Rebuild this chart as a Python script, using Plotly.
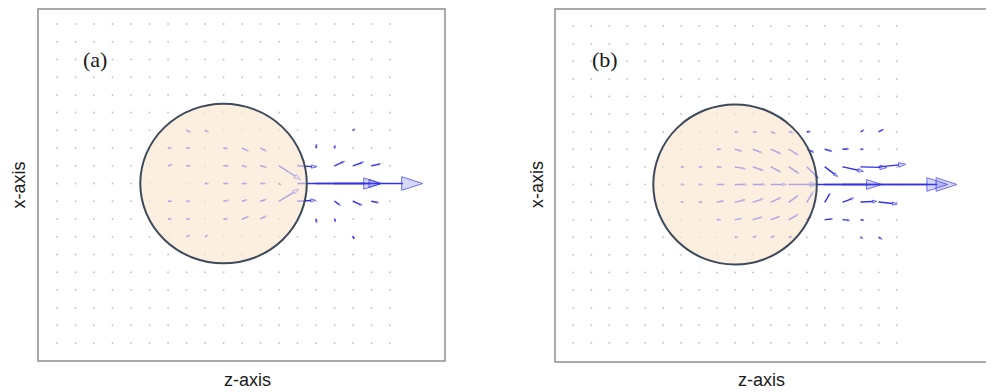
import math
import plotly.graph_objects as go

# ---------------- data ----------------
grid_z = list(range(-9, 10))
grid_x = list(range(-9, 10))

sphere_radius_a = 4.5
sphere_radius_b = 4.55

# panel (a): tail positions (z, x) and vector components (dz, dx)
a_z = [-2, -1, 7,
       -3, -2, 0, 1, 2, 5, 6,
       -3, -2, 0, 1, 2, 3, 4, 6, 7, 8,
       -1, 0, 1, 2, 3, 4, 5, 6,
       -3, -2, 0, 1, 2, 3, 4, 6, 7, 8,
       -3, -2, 0, 1, 2, 5, 6,
       -2, -1, 7]
a_x = [3, 3, 3,
       2, 2, 2, 2, 2, 2, 2,
       1, 1, 1, 1, 1, 1, 1, 1, 1, 1,
       0, 0, 0, 0, 0, 0, 0, 0,
       -1, -1, -1, -1, -1, -1, -1, -1, -1, -1,
       -2, -2, -2, -2, -2, -2, -2,
       -3, -3, -3]
a_dz = [0.22, 0.19, 0.11,
        0.19, 0.19, 0.22, 0.35, 0.32, 0.03, 0.02,
        0.22, 0.22, 0.27, 0.27, 0.32, 1.17, 1.03, 0.54, 0.57, 0.49,
        0.19, 0.27, 0.27, 0.27, 0.11, 6.76, 3.51, 2.54,
        0.22, 0.19, 0.27, 0.27, 0.32, 1.08, 0.97, 0.32, 0.49, 0.38,
        0.19, 0.19, 0.22, 0.35, 0.32, 0.03, 0.05,
        0.19, 0.16, 0.05]
a_dx = [-0.11, -0.10, 0.08,
        0.0, 0.0, -0.03, -0.17, -0.17, 0.23, 0.17,
        0.06, 0.0, 0.0, -0.06, -0.08, -0.79, -0.06, 0.25, 0.21, 0.11,
        0.0, 0.0, 0.0, 0.0, -0.08, 0.0, 0.0, 0.0,
        0.0, 0.0, 0.06, 0.08, 0.11, 0.69, 0.06, -0.23, -0.23, -0.08,
        0.0, 0.0, 0.0, 0.14, 0.17, -0.23, -0.17,
        0.08, 0.08, -0.11]

# panel (b)
b_z = [0, 1, 2, 3, 4, 7, 8,
       -1, 0, 1, 2, 3, 4, 5, 6, 7,
       -3, -2, -1, 0, 1, 2, 3, 4, 5, 6, 7, 8,
       -3, -2, -1, 0, 1, 2, 3, 4, 5, 6,
       -3, -2, -1, 0, 1, 2, 3, 4, 5, 6, 7, 8,
       -1, 0, 1, 2, 3, 4, 5, 6, 7,
       0, 1, 2, 3, 7, 8]
b_x = [3] * 7 + [2] * 9 + [1] * 12 + [0] * 10 + [-1] * 12 + [-2] * 9 + [-3] * 6
b_dz = [0.18, 0.22, 0.25, 0.25, 0.19, 0.18, 0.26,
        0.22, 0.39, 0.50, 0.56, 0.53, 0.39, 0.39, 0.32, 0.15,
        0.17, 0.18, 0.25, 0.58, 0.58, 0.56, 0.56, 0.63, 0.71, 1.15, 1.45, 1.50,
        0.17, 0.18, 0.41, 0.65, 0.67, 0.87, 1.61, 8.35, 3.16, 5.84,
        0.15, 0.18, 0.37, 0.56, 0.57, 0.56, 0.52, 0.35, 0.29, 0.60, 0.89, 1.03,
        0.22, 0.37, 0.52, 0.50, 0.52, 0.22, 0.42, 0.37, 0.18,
        0.18, 0.21, 0.22, 0.18, 0.11, 0.18]
b_dx = [-0.03, -0.03, -0.11, -0.06, 0.0, 0.10, 0.13,
        0.0, -0.11, -0.20, -0.26, -0.34, -0.17, -0.11, 0.02, 0.0,
        0.0, 0.0, -0.02, -0.11, -0.21, -0.30, -0.38, -0.64, -0.55, -0.26, -0.04, 0.15,
        0.0, 0.0, 0.0, 0.0, 0.0, 0.0, 0.0, 0.0, 0.0, 0.0,
        0.0, 0.0, 0.07, 0.13, 0.19, 0.26, 0.38, 0.60, 0.51, 0.23, 0.04, -0.11,
        0.0, 0.07, 0.15, 0.19, 0.30, 0.17, 0.04, -0.04, -0.04,
        0.0, 0.06, 0.06, 0.04, -0.07, -0.11]

panel_labels = ["(a)", "(b)"]
axis_title_h = "z-axis"
axis_title_v = "x-axis"

# ---------------- layout geometry ----------------
# page body has an 8px margin, so the figure is sized to the remaining area
OFF = 8
W, H = 994 - OFF, 392 - OFF
A_BOX = (38, 445, 8, 361)     # left, right, top, bottom (window px)
B_BOX = (555, 994, 5, 362)
A_XR, A_YR = [-10.03, 11.97], [-10.01, 9.90]
B_XR, B_YR = [-10.02, 14.41], [-10.09, 10.03]

BLUE = "rgb(50,50,232)"
PEACH = "rgb(252,239,224)"


def px_x(px):
    return (px - OFF) / W


def px_y(py):
    return 1 - (py - OFF) / H


def dom(box):
    l, r, t, b = box
    return [max(px_x(l), 0), min(px_x(r), 1)], [max(px_y(b), 0), min(px_y(t), 1)]


def arrow_trace(zs, xs, dzs, dxs, xa, ya, box, xr, yr):
    pxz = (box[1] - box[0]) / (xr[1] - xr[0])
    pxy = (box[3] - box[2]) / (yr[1] - yr[0])
    X, Y, S = [], [], []
    for z, x, dz, dx in zip(zs, xs, dzs, dxs):
        L = math.hypot(dz * pxz, dx * pxy)
        s = min(max(0.28 * L, 2.5), 22)
        X += [z, z + dz, None]
        Y += [x, x + dx, None]
        S += [0, s, 0]
    return go.Scatter(
        x=X, y=Y, xaxis=xa, yaxis=ya, mode="lines+markers",
        line=dict(color=BLUE, width=1.4),
        marker=dict(symbol="arrow", angleref="previous", size=S,
                    color="rgba(70,70,235,0.3)",
                    line=dict(color=BLUE, width=1)),
        hoverinfo="skip", showlegend=False)


def dot_trace(xa, ya):
    X = [z for z in grid_z for _ in grid_x]
    Y = [x for _ in grid_z for x in grid_x]
    return go.Scatter(x=X, y=Y, xaxis=xa, yaxis=ya, mode="markers",
                      marker=dict(size=2, color="#c6c6d2"),
                      hoverinfo="skip", showlegend=False)


fig = go.Figure()
fig.add_trace(dot_trace("x", "y"))
fig.add_trace(arrow_trace(a_z, a_x, a_dz, a_dx, "x", "y", A_BOX, A_XR, A_YR))
fig.add_trace(dot_trace("x2", "y2"))
fig.add_trace(arrow_trace(b_z, b_x, b_dz, b_dx, "x2", "y2", B_BOX, B_XR, B_YR))

axis_common = dict(showgrid=False, zeroline=False, showticklabels=False,
                   ticks="", showline=False)
ad_x, ad_y = dom(A_BOX)
bd_x, bd_y = dom(B_BOX)
fig.update_layout(
    width=W, height=H, margin=dict(l=0, r=0, t=0, b=0),
    paper_bgcolor="white", plot_bgcolor="white",
    xaxis=dict(domain=ad_x, range=A_XR, anchor="y", **axis_common),
    yaxis=dict(domain=ad_y, range=A_YR, anchor="x", **axis_common),
    xaxis2=dict(domain=bd_x, range=B_XR, anchor="y2", **axis_common),
    yaxis2=dict(domain=bd_y, range=B_YR, anchor="x2", **axis_common),
)

shapes = []
for (xr, yr, rad) in (("x", "y", sphere_radius_a), ("x2", "y2", sphere_radius_b)):
    shapes.append(dict(type="circle", xref=xr, yref=yr, x0=-rad, x1=rad,
                       y0=-rad, y1=rad, fillcolor=PEACH, line=dict(width=0),
                       layer="below"))
    shapes.append(dict(type="circle", xref=xr, yref=yr, x0=-rad, x1=rad,
                       y0=-rad, y1=rad, fillcolor="rgba(252,239,224,0.6)",
                       line=dict(color="#3d4a5b", width=2), layer="above"))
for box, extra in ((A_BOX, 0), (B_BOX, 6)):
    l, r, t, b = box
    top = max(t, OFF + 1)   # keep the top border inside the drawable page
    shapes.append(dict(type="rect", xref="paper", yref="paper",
                       x0=px_x(l), x1=px_x(r + extra), y0=px_y(b), y1=px_y(top),
                       line=dict(color="#8e8e8e", width=1.5),
                       fillcolor="rgba(0,0,0,0)", layer="above"))
fig.update_layout(shapes=shapes)

ann = []
sans = dict(family="Liberation Sans, Arial", size=18, color="#1a1a1a")
serif = dict(family="Liberation Serif, Times New Roman", size=22, color="#1a1a1a")
for lbl, (px, py) in zip(panel_labels, ((94.5, 59), (604.5, 60))):
    ann.append(dict(text=lbl, x=px_x(px), y=px_y(py), xref="paper", yref="paper",
                    showarrow=False, font=serif, xanchor="center", yanchor="middle"))
for px in (247.5, 761):
    ann.append(dict(text=axis_title_h, x=px_x(px), y=px_y(380), xref="paper",
                    yref="paper", showarrow=False, font=sans,
                    xanchor="center", yanchor="middle"))
for px in (18.5, 537):
    ann.append(dict(text=axis_title_v, x=px_x(px), y=px_y(185), xref="paper",
                    yref="paper", showarrow=False, font=sans, textangle=-90,
                    xanchor="center", yanchor="middle"))
fig.update_layout(annotations=ann)

fig.write_html("out.html")
